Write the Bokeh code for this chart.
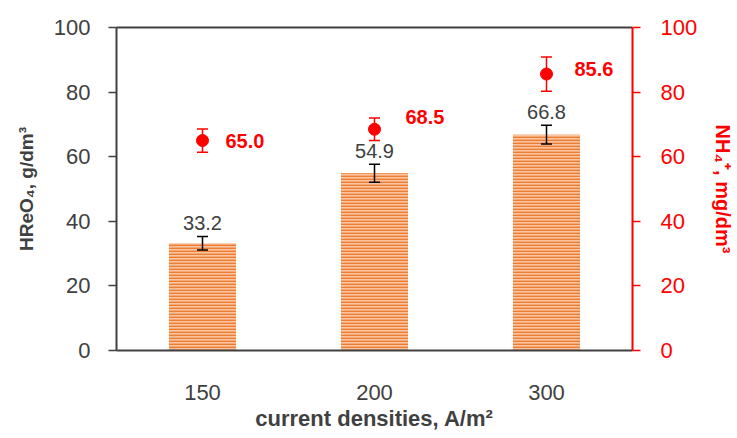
from bokeh.plotting import figure
from bokeh.models import (ColumnDataSource, Range1d, LinearAxis, CategoricalAxis,
                          Whisker, TeeHead, FixedTicker, LabelSet)
from bokeh.core.properties import value
from bokeh.embed import file_html
from bokeh.resources import INLINE

# ---- data ----
densities = ["150", "200", "300"]
hreo4 = [33.2, 54.9, 66.8]
hreo4_err = [2.1, 2.8, 2.9]
nh4 = [65.0, 68.5, 85.6]
nh4_err = [3.6, 3.5, 5.3]

FONT = "Liberation Sans"
GREY = "#404040"
RED = "#ff0000"

bars = ColumnDataSource(dict(
    x=densities, top=hreo4,
    upper=[v + e for v, e in zip(hreo4, hreo4_err)],
    lower=[v - e for v, e in zip(hreo4, hreo4_err)],
    label=[f"{v:.1f}" for v in hreo4],
))
# label nudges (pixels) for the red data labels
red_dx = [23, 31, 28]
red_dy = [0, 12, 5]
pts = ColumnDataSource(dict(
    x=densities, y=nh4,
    upper=[v + e for v, e in zip(nh4, nh4_err)],
    lower=[v - e for v, e in zip(nh4, nh4_err)],
    label=[f"{v:.1f}" for v in nh4],
    dx=red_dx, dy=red_dy,
))

p = figure(width=737, height=438, x_range=densities, y_range=Range1d(0, 100),
           output_backend="svg", toolbar_location=None,
           x_axis_location=None, y_axis_location=None,
           min_border_left=116, min_border_right=102, min_border_top=27, min_border_bottom=88)
p.outline_line_color = None
p.grid.visible = False
p.background_fill_color = "white"
p.border_fill_color = "white"

p.extra_y_ranges = {"nh4": Range1d(0, 100)}

# bars
p.vbar(x="x", top="top", width=0.39, source=bars, fill_color="#f8c4a2",
       line_color=None, hatch_pattern="horizontal_line", hatch_color="#ed7d31",
       hatch_scale=3, hatch_weight=1.8)
p.add_layout(Whisker(source=bars, base="x", upper="upper", lower="lower", level="overlay",
                     line_color="black", line_width=1.5,
                     upper_head=TeeHead(size=11, line_color="black", line_width=1.5),
                     lower_head=TeeHead(size=11, line_color="black", line_width=1.5)))
p.add_layout(LabelSet(source=bars, x="x", y="upper", text="label", y_offset=6,
                      text_align="center", text_baseline="bottom",
                      text_font=value(FONT), text_font_size="20px", text_color=GREY))

# red points
p.add_layout(Whisker(source=pts, base="x", upper="upper", lower="lower", level="overlay",
                     y_range_name="nh4", line_color=RED, line_width=1.5,
                     upper_head=TeeHead(size=11, line_color=RED, line_width=1.5),
                     lower_head=TeeHead(size=11, line_color=RED, line_width=1.5)))
p.scatter(x="x", y="y", source=pts, y_range_name="nh4", size=12,
          fill_color=RED, line_color=RED)
p.add_layout(LabelSet(source=pts, x="x", y="y", text="label", y_range_name="nh4",
                      x_offset="dx", y_offset="dy",
                      text_align="left", text_baseline="middle",
                      text_font=value(FONT), text_font_size="20px", text_font_style="bold",
                      text_color=RED))

# axes
ticker = FixedTicker(ticks=[0, 20, 40, 60, 80, 100])

left = LinearAxis(ticker=ticker, axis_label="HReO₄, g/dm³")
left.axis_line_color = GREY
left.axis_line_width = 2
left.major_tick_line_color = GREY
left.major_tick_line_width = 1.5
left.major_tick_in = 0
left.major_tick_out = 8
left.minor_tick_line_color = None
left.major_label_standoff = 18
left.major_label_text_font = FONT
left.major_label_text_font_size = "22px"
left.major_label_text_color = GREY
left.axis_label_text_font = FONT
left.axis_label_text_font_size = "19px"
left.axis_label_text_font_style = "bold"
left.axis_label_text_color = GREY
left.axis_label_standoff = 14
p.add_layout(left, "left")

right = LinearAxis(ticker=ticker, y_range_name="nh4", axis_label="NH₄⁺, mg/dm³")
right.axis_line_color = RED
right.axis_line_width = 2
right.major_tick_line_color = RED
right.major_tick_line_width = 1.5
right.major_tick_in = 0
right.major_tick_out = 8
right.minor_tick_line_color = None
right.major_label_standoff = 20
right.major_label_text_font = FONT
right.major_label_text_font_size = "22px"
right.major_label_text_color = RED
right.axis_label_text_font = FONT
right.axis_label_text_font_size = "20px"
right.axis_label_text_font_style = "bold"
right.axis_label_text_color = RED
right.axis_label_standoff = 12
p.add_layout(right, "right")

bottom = CategoricalAxis(axis_label="current densities, A/m²")
bottom.axis_line_color = GREY
bottom.axis_line_width = 2
bottom.major_tick_line_color = None
bottom.major_tick_out = 0
bottom.major_tick_in = 0
bottom.minor_tick_line_color = None
bottom.major_label_standoff = 34
bottom.major_label_text_font = FONT
bottom.major_label_text_font_size = "22px"
bottom.major_label_text_color = GREY
bottom.axis_label_text_font = FONT
bottom.axis_label_text_font_size = "22px"
bottom.axis_label_text_font_style = "bold"
bottom.axis_label_text_color = GREY
bottom.axis_label_standoff = 3
p.add_layout(bottom, "below")

top = CategoricalAxis(major_label_text_font_size="0px")
top.axis_line_color = GREY
top.axis_line_width = 2
top.major_tick_line_color = None
top.minor_tick_line_color = None
top.major_label_text_color = None
top.major_label_standoff = 0
p.add_layout(top, "above")

open("out.html", "w").write(file_html(p, INLINE))
